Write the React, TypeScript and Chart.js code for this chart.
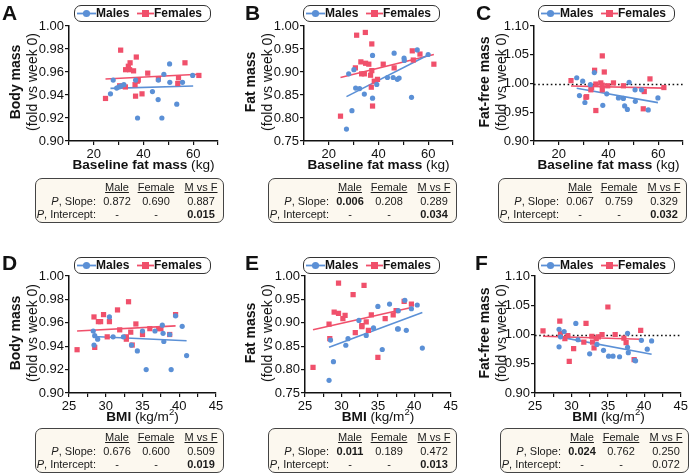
import { useEffect, useRef } from 'react';
import { Chart, registerables } from 'chart.js';

Chart.register(...registerables);

const BLUE = '#5b90d6';
const RED = '#f0506b';
const INK = '#111';
const FONT = "'Liberation Sans', Arial, Helvetica, sans-serif";
Chart.defaults.font.family = FONT;

type Pt = [number, number];

// ---------- Panel A: body mass vs baseline fat mass ----------
const aMales: Pt[] = [[26.7, 0.941], [27.8, 0.953], [29.2, 0.946], [30.1, 0.947], [31.0, 0.948], [32.1, 0.949], [37.6, 0.920], [36.8, 0.953], [43.6, 0.943], [45.9, 0.936], [46.0, 0.953], [47.4, 0.920], [48.2, 0.958], [50.5, 0.967], [50.6, 0.951], [53.4, 0.932], [55.7, 0.951], [59.8, 0.957]];
const aFemales: Pt[] = [[24.7, 0.937], [30.8, 0.979], [30.4, 0.948], [32.7, 0.947], [32.8, 0.962], [33.9, 0.965], [34.6, 0.968], [34.4, 0.962], [36.0, 0.961], [37.1, 0.973], [36.8, 0.939], [36.6, 0.949], [37.5, 0.952], [37.9, 0.953], [39.4, 0.941], [41.7, 0.959], [46.0, 0.954], [53.8, 0.950], [54.1, 0.955], [56.7, 0.968], [62.3, 0.957]];
const aMaleFit: Pt[] = [[26.7, 0.9458], [60.0, 0.9478]];
const aFemaleFit: Pt[] = [[24.7, 0.9539], [62.3, 0.958]];
const aSlopeP = ['0.872', '0.690', '0.887'];
const aSlopeBold = [false, false, false];
const aInterceptP = ['-', '-', '0.015'];
const aInterceptBold = [false, false, true];

// ---------- Panel B: fat mass vs baseline fat mass ----------
const bMales: Pt[] = [[27.1, 0.776], [28.0, 0.896], [29.3, 0.816], [30.1, 0.905], [30.8, 0.865], [32.4, 0.864], [34.3, 0.852], [37.6, 0.936], [37.6, 0.843], [39.3, 0.873], [43.6, 0.888], [45.9, 0.888], [46.3, 0.941], [47.6, 0.884], [48.3, 0.887], [50.3, 0.930], [50.4, 0.925], [53.3, 0.845], [55.6, 0.948], [60.0, 0.938]];
const bFemales: Pt[] = [[24.7, 0.804], [30.7, 0.909], [31.2, 0.980], [32.9, 0.922], [33.2, 0.896], [34.3, 0.896], [34.7, 0.986], [34.8, 0.919], [36.1, 0.917], [36.8, 0.893], [37.1, 0.867], [37.3, 0.961], [37.3, 0.903], [37.6, 0.826], [38.3, 0.880], [39.6, 0.884], [41.9, 0.917], [46.3, 0.909], [53.6, 0.946], [54.0, 0.926], [56.7, 0.939], [62.3, 0.917]];
const bMaleFit: Pt[] = [[27.1, 0.8464], [60.0, 0.937]];
const bFemaleFit: Pt[] = [[24.7, 0.888], [62.3, 0.938]];
const bSlopeP = ['0.006', '0.208', '0.289'];
const bSlopeBold = [true, false, false];
const bInterceptP = ['-', '-', '0.034'];
const bInterceptBold = [false, false, true];

// ---------- Panel C: fat-free mass vs baseline fat mass ----------
const cMales: Pt[] = [[27.2, 1.010], [28.3, 0.979], [29.6, 1.004], [30.5, 0.967], [32.7, 0.998], [34.3, 1.019], [37.7, 0.962], [39.3, 0.982], [44.0, 0.975], [46.0, 0.974], [46.5, 0.961], [47.6, 0.955], [48.3, 1.002], [50.7, 0.989], [50.8, 0.969], [53.3, 0.989], [56.0, 0.954], [59.9, 0.975]];
const cFemales: Pt[] = [[24.9, 1.005], [30.9, 0.976], [31.2, 0.977], [32.9, 0.989], [33.2, 0.993], [34.4, 1.023], [34.9, 0.999], [34.9, 0.953], [36.9, 1.001], [37.5, 1.048], [38.3, 1.020], [37.5, 0.989], [37.5, 0.997], [39.7, 0.996], [42.0, 1.001], [46.0, 0.996], [54.0, 0.956], [54.4, 0.986], [56.7, 1.008], [62.3, 0.993]];
const cMaleFit: Pt[] = [[27.2, 0.9916], [59.9, 0.9667]];
const cFemaleFit: Pt[] = [[24.9, 0.9957], [62.3, 0.992]];
const cSlopeP = ['0.067', '0.759', '0.329'];
const cSlopeBold = [false, false, false];
const cInterceptP = ['-', '-', '0.032'];
const cInterceptBold = [false, false, true];

// ---------- Panel D: body mass vs BMI ----------
const dMales: Pt[] = [[28.3, 0.953], [28.4, 0.941], [28.5, 0.949], [28.9, 0.946], [30.5, 0.965], [31.0, 0.948], [32.4, 0.948], [33.5, 0.941], [34.3, 0.936], [35.5, 0.920], [35.0, 0.953], [36.7, 0.953], [37.7, 0.958], [37.8, 0.951], [37.9, 0.944], [38.9, 0.920], [38.7, 0.950], [39.5, 0.966], [40.4, 0.957], [41.0, 0.932]];
const dFemales: Pt[] = [[26.1, 0.937], [28.4, 0.965], [28.5, 0.939], [29.0, 0.961], [29.3, 0.961], [29.7, 0.967], [30.5, 0.961], [30.2, 0.948], [31.6, 0.971], [31.9, 0.954], [33.1, 0.978], [32.8, 0.948], [32.8, 0.946], [33.4, 0.952], [33.6, 0.941], [34.1, 0.959], [35.0, 0.950], [36.0, 0.955], [37.2, 0.955], [37.5, 0.955], [38.7, 0.950], [39.5, 0.967]];
const dMaleFit: Pt[] = [[28.3, 0.9483], [41.0, 0.9446]];
const dFemaleFit: Pt[] = [[26.1, 0.953], [39.5, 0.9574]];
const dSlopeP = ['0.676', '0.600', '0.509'];
const dSlopeBold = [false, false, false];
const dInterceptP = ['-', '-', '0.019'];
const dInterceptBold = [false, false, true];

// ---------- Panel E: fat mass vs BMI ----------
const eMales: Pt[] = [[28.3, 0.777], [28.9, 0.817], [28.5, 0.863], [30.6, 0.852], [30.9, 0.866], [32.4, 0.905], [33.4, 0.873], [34.4, 0.889], [35.0, 0.935], [35.6, 0.843], [36.6, 0.940], [37.7, 0.887], [37.8, 0.887], [37.8, 0.926], [38.9, 0.884], [38.7, 0.948], [39.6, 0.930], [40.4, 0.938], [41.1, 0.846]];
const eFemales: Pt[] = [[26.1, 0.805], [28.3, 0.897], [28.4, 0.866], [29.0, 0.923], [29.6, 0.920], [29.6, 0.985], [30.2, 0.909], [30.5, 0.916], [31.6, 0.960], [31.9, 0.879], [32.8, 0.894], [32.8, 0.892], [33.1, 0.980], [33.4, 0.902], [33.7, 0.884], [34.1, 0.917], [35.0, 0.826], [36.0, 0.909], [37.1, 0.917], [37.5, 0.926], [38.6, 0.946], [39.6, 0.940]];
const eMaleFit: Pt[] = [[28.3, 0.848], [41.1, 0.922]];
const eFemaleFit: Pt[] = [[26.1, 0.885], [39.6, 0.9325]];
const eSlopeP = ['0.011', '0.189', '0.472'];
const eSlopeBold = [true, false, false];
const eInterceptP = ['-', '-', '0.013'];
const eInterceptBold = [false, false, true];

// ---------- Panel F: fat-free mass vs BMI ----------
const fMales: Pt[] = [[28.3, 1.009], [28.3, 0.979], [28.5, 0.996], [29.0, 1.005], [30.6, 1.019], [30.9, 0.991], [32.5, 0.967], [33.5, 0.983], [34.4, 0.973], [35.1, 0.963], [35.7, 0.963], [36.6, 0.962], [37.7, 1.002], [37.7, 0.978], [37.8, 0.969], [38.7, 0.956], [38.8, 0.955], [39.6, 0.990], [40.4, 0.975], [41.0, 0.989]];
const fFemales: Pt[] = [[26.1, 1.006], [28.4, 1.023], [28.5, 1.002], [29.1, 0.993], [29.7, 0.954], [29.5, 0.998], [30.3, 0.976], [31.7, 0.987], [32.0, 1.019], [32.8, 0.997], [32.9, 0.987], [33.1, 0.977], [33.4, 0.993], [33.7, 0.996], [34.2, 1.000], [35.0, 1.047], [36.0, 1.000], [37.2, 0.994], [37.5, 0.986], [38.6, 0.957], [39.5, 1.007]];
const fMaleFit: Pt[] = [[28.3, 0.996], [41.0, 0.9663]];
const fFemaleFit: Pt[] = [[26.1, 0.997], [39.5, 0.992]];
const fSlopeP = ['0.024', '0.762', '0.250'];
const fSlopeBold = [true, false, false];
const fInterceptP = ['-', '-', '0.072'];
const fInterceptBold = [false, false, false];

// ---------- axes ----------
const fatMassAxis = { min: 10, max: 70, step: 10, labelEvery: 20 };
const bmiAxis = { min: 25, max: 45, step: 2.5, labelEvery: 5 };
const bodyAxis = { min: 0.9, max: 1.0, step: 0.02 };
const fatAxis = { min: 0.75, max: 1.0, step: 0.05 };
const ffmAxis = { min: 0.9, max: 1.1, step: 0.05 };
const tableHeaders = ['Male', 'Female', 'M vs F'];

const refLinePlugin = {
  id: 'refLine',
  beforeDatasetsDraw(chart: any, _args: any, opts: any) {
    if (opts == null || opts.value == null) return;
    const { ctx, chartArea, scales } = chart;
    const yy = Math.round(scales.y.getPixelForValue(opts.value)) + 0.5;
    ctx.save();
    ctx.setLineDash([1.6, 2.6]);
    ctx.strokeStyle = INK;
    ctx.lineWidth = 1.4;
    ctx.beginPath();
    ctx.moveTo(chartArea.left, yy);
    ctx.lineTo(chartArea.right, yy);
    ctx.stroke();
    ctx.restore();
  },
};

type PanelDef = {
  letter: string;
  cx: number; cy: number; w: number; h: number;
  plot: { l: number; r: number; t: number; b: number };
  males: Pt[]; females: Pt[]; maleFit: Pt[]; femaleFit: Pt[];
  xAxis: { min: number; max: number; step: number; labelEvery: number };
  yAxis: { min: number; max: number; step: number };
  refLine: number | null;
  yTitle: string; yTitleX: number;
  xKind: 'fat' | 'bmi';
  legendX: number; legendY: number;
  letterX: number; letterY: number;
  tableX: number; tableY: number;
  slope: string[]; slopeBold: boolean[]; intercept: string[]; interceptBold: boolean[];
};

function PanelChart({ p }: { p: PanelDef }) {
  const ref = useRef<HTMLCanvasElement>(null);
  useEffect(() => {
    const toXY = (a: Pt[]) => a.map(([x, y]) => ({ x, y }));
    const tickFont = { family: FONT, size: 13 };
    const chart = new Chart(ref.current as HTMLCanvasElement, {
      type: 'scatter',
      data: {
        datasets: [
          { data: toXY(p.males), pointStyle: 'circle', pointRadius: 2.6, pointBackgroundColor: BLUE, pointBorderColor: BLUE, pointBorderWidth: 0, showLine: false } as any,
          { data: toXY(p.females), pointStyle: 'rect', pointRadius: 3.7, pointBackgroundColor: RED, pointBorderColor: RED, pointBorderWidth: 0, showLine: false } as any,
          { data: toXY(p.maleFit), showLine: true, borderColor: BLUE, borderWidth: 1.6, pointRadius: 0, fill: false } as any,
          { data: toXY(p.femaleFit), showLine: true, borderColor: RED, borderWidth: 1.6, pointRadius: 0, fill: false } as any,
        ],
      },
      options: {
        animation: false,
        responsive: false,
        maintainAspectRatio: false,
        events: [],
        layout: { padding: { left: 0, top: p.plot.t - p.cy, right: p.cx + p.w - p.plot.r, bottom: 0 } },
        plugins: {
          legend: { display: false },
          tooltip: { enabled: false },
          refLine: { value: p.refLine },
        } as any,
        scales: {
          x: {
            type: 'linear',
            min: p.xAxis.min,
            max: p.xAxis.max,
            ticks: {
              stepSize: p.xAxis.step,
              autoSkip: false,
              maxRotation: 0,
              padding: 2,
              color: INK,
              font: tickFont,
              callback: (v: any) => (Math.abs(Number(v) % p.xAxis.labelEvery) < 1e-6 ? String(Number(v)) : ''),
            },
            grid: { drawOnChartArea: false, tickLength: 4, color: INK, lineWidth: 1.2 },
            border: { color: INK, width: 1.5 },
            afterFit: (s: any) => { s.height = p.cy + p.h - p.plot.b; },
          } as any,
          y: {
            type: 'linear',
            min: p.yAxis.min,
            max: p.yAxis.max,
            ticks: {
              stepSize: p.yAxis.step,
              autoSkip: false,
              padding: 1,
              color: INK,
              font: tickFont,
              callback: (v: any) => Number(v).toFixed(2),
            },
            grid: { drawOnChartArea: false, tickLength: 4, color: INK, lineWidth: 1.2 },
            border: { color: INK, width: 1.5 },
            afterFit: (s: any) => { s.width = p.plot.l - p.cx; },
          } as any,
        },
      },
      plugins: [refLinePlugin as any],
    });
    return () => chart.destroy();
  }, [p]);
  return (
    <canvas
      ref={ref}
      width={p.w}
      height={p.h}
      style={{ position: 'absolute', left: p.cx, top: p.cy, width: p.w, height: p.h }}
    />
  );
}

function Legend({ x, y }: { x: number; y: number }) {
  const txt: any = { position: 'absolute', top: 0, lineHeight: '15px', fontSize: 12, fontWeight: 'bold', whiteSpace: 'nowrap', color: INK };
  return (
    <div style={{ position: 'absolute', left: x, top: y, width: 137, height: 17, boxSizing: 'border-box', border: '1px solid #333', borderRadius: 7, background: '#fff' }}>
      <svg width={137} height={17} style={{ position: 'absolute', left: -1, top: -1 }}>
        <line x1={3} y1={8.5} x2={22} y2={8.5} stroke={BLUE} strokeWidth={1.8} />
        <circle cx={12.5} cy={8.5} r={3.6} fill={BLUE} />
        <line x1={63} y1={8.5} x2={80} y2={8.5} stroke={RED} strokeWidth={1.8} />
        <rect x={68} y={5} width={7} height={7} fill={RED} />
      </svg>
      <span style={{ ...txt, left: 21 }}>Males</span>
      <span style={{ ...txt, left: 79 }}>Females</span>
    </div>
  );
}

function StatsTable({ p }: { p: PanelDef }) {
  const rowTops = [1.5, 15.5, 29];
  const colCenters = [81, 120, 165];
  const base: any = { position: 'absolute', lineHeight: '13px', fontSize: 11, whiteSpace: 'nowrap', color: '#1a1a1a' };
  const cell = (text: string, row: number, col: number, bold: boolean, underline = false) => (
    <span
      key={`${row}-${col}`}
      style={{ ...base, top: rowTops[row], left: colCenters[col] - 25, width: 50, textAlign: 'center', fontWeight: bold ? 'bold' : 'normal', textDecoration: underline ? 'underline' : 'none' }}
    >
      {text}
    </span>
  );
  return (
    <div style={{ position: 'absolute', left: p.tableX, top: p.tableY, width: 189, height: 45, boxSizing: 'border-box', border: '1px solid #444', borderRadius: 7, background: '#fcf8ef' }}>
      {tableHeaders.map((h, i) => cell(h, 0, i, false, true))}
      <span style={{ ...base, top: rowTops[1], right: 187 - 60, textAlign: 'right' }}>
        <i>P</i>, Slope:
      </span>
      <span style={{ ...base, top: rowTops[2], right: 187 - 60, textAlign: 'right' }}>
        <i>P</i>, Intercept:
      </span>
      {p.slope.map((v, i) => cell(v, 1, i, p.slopeBold[i]))}
      {p.intercept.map((v, i) => cell(v, 2, i, p.interceptBold[i]))}
    </div>
  );
}

const yTitleLines: Record<string, string> = { A: 'Body mass', B: 'Fat mass', C: 'Fat-free mass', D: 'Body mass', E: 'Fat mass', F: 'Fat-free mass' };

function Panel({ p }: { p: PanelDef }) {
  const plotCx = (p.plot.l + p.plot.r) / 2;
  const plotCy = (p.plot.t + p.plot.b) / 2 - 2;
  const titleSize = 13.6;
  const baseline = p.plot.b + 29;
  return (
    <>
      <PanelChart p={p} />
      <div style={{ position: 'absolute', left: p.letterX, top: p.letterY, fontSize: 21, fontWeight: 'bold', lineHeight: '21px', color: INK }}>{p.letter}</div>
      <Legend x={p.legendX} y={p.legendY} />
      <div
        style={{ position: 'absolute', left: p.yTitleX, top: plotCy, transform: 'translate(-50%, -50%) rotate(-90deg)', whiteSpace: 'nowrap', textAlign: 'center', fontSize: 14, lineHeight: '17px', color: INK }}
      >
        <div style={{ fontWeight: 'bold' }}>{p.yTitle}</div>
        <div>(fold vs week 0)</div>
      </div>
      <div
        style={{ position: 'absolute', left: plotCx, top: baseline - 12.7, transform: 'translateX(-50%)', whiteSpace: 'nowrap', fontSize: titleSize, lineHeight: '16px', color: INK }}
      >
        {p.xKind === 'fat' ? (
          <>
            <b>Baseline fat mass</b> (kg)
          </>
        ) : (
          <>
            <b>BMI</b> (kg/m<sup style={{ fontSize: '0.7em', lineHeight: 0, verticalAlign: 'super' }}>2</sup>)
          </>
        )}
      </div>
      <StatsTable p={p} />
    </>
  );
}

const TOP = { t: 26, b: 141 };
const BOT = { t: 276, b: 393 };

const panels: PanelDef[] = [
  {
    letter: 'A', cx: 0, cy: 0, w: 230, h: 175, plot: { l: 69, r: 218, ...TOP },
    males: aMales, females: aFemales, maleFit: aMaleFit, femaleFit: aFemaleFit,
    xAxis: fatMassAxis, yAxis: bodyAxis, refLine: null, yTitle: yTitleLines.A, yTitleX: 23.5, xKind: 'fat',
    legendX: 74, legendY: 5, letterX: 2, letterY: 2.2, tableX: 35, tableY: 178,
    slope: aSlopeP, slopeBold: aSlopeBold, intercept: aInterceptP, interceptBold: aInterceptBold,
  },
  {
    letter: 'B', cx: 230, cy: 0, w: 230, h: 175, plot: { l: 304, r: 453, ...TOP },
    males: bMales, females: bFemales, maleFit: bMaleFit, femaleFit: bFemaleFit,
    xAxis: fatMassAxis, yAxis: fatAxis, refLine: null, yTitle: yTitleLines.B, yTitleX: 258.5, xKind: 'fat',
    legendX: 303, legendY: 5, letterX: 245, letterY: 2.2, tableX: 268, tableY: 178,
    slope: bSlopeP, slopeBold: bSlopeBold, intercept: bInterceptP, interceptBold: bInterceptBold,
  },
  {
    letter: 'C', cx: 460, cy: 0, w: 230, h: 175, plot: { l: 534, r: 683, ...TOP },
    males: cMales, females: cFemales, maleFit: cMaleFit, femaleFit: cFemaleFit,
    xAxis: fatMassAxis, yAxis: ffmAxis, refLine: 1, yTitle: yTitleLines.C, yTitleX: 492.5, xKind: 'fat',
    legendX: 538, legendY: 5, letterX: 476, letterY: 2.2, tableX: 498, tableY: 178,
    slope: cSlopeP, slopeBold: cSlopeBold, intercept: cInterceptP, interceptBold: cInterceptBold,
  },
  {
    letter: 'D', cx: 0, cy: 240, w: 230, h: 175, plot: { l: 69, r: 216, ...BOT },
    males: dMales, females: dFemales, maleFit: dMaleFit, femaleFit: dFemaleFit,
    xAxis: bmiAxis, yAxis: bodyAxis, refLine: null, yTitle: yTitleLines.D, yTitleX: 23.5, xKind: 'bmi',
    legendX: 74, legendY: 257, letterX: 2, letterY: 252, tableX: 35, tableY: 428,
    slope: dSlopeP, slopeBold: dSlopeBold, intercept: dInterceptP, interceptBold: dInterceptBold,
  },
  {
    letter: 'E', cx: 230, cy: 240, w: 230, h: 175, plot: { l: 305, r: 451, ...BOT },
    males: eMales, females: eFemales, maleFit: eMaleFit, femaleFit: eFemaleFit,
    xAxis: bmiAxis, yAxis: fatAxis, refLine: null, yTitle: yTitleLines.E, yTitleX: 258.5, xKind: 'bmi',
    legendX: 303, legendY: 257, letterX: 245, letterY: 252, tableX: 268, tableY: 428,
    slope: eSlopeP, slopeBold: eSlopeBold, intercept: eInterceptP, interceptBold: eInterceptBold,
  },
  {
    letter: 'F', cx: 460, cy: 240, w: 230, h: 175, plot: { l: 535, r: 682, ...BOT },
    males: fMales, females: fFemales, maleFit: fMaleFit, femaleFit: fFemaleFit,
    xAxis: bmiAxis, yAxis: ffmAxis, refLine: 1, yTitle: yTitleLines.F, yTitleX: 492.5, xKind: 'bmi',
    legendX: 538, legendY: 257, letterX: 475, letterY: 252, tableX: 500, tableY: 428,
    slope: fSlopeP, slopeBold: fSlopeBold, intercept: fInterceptP, interceptBold: fInterceptBold,
  },
];

export default function App() {
  return (
    <div style={{ position: 'absolute', left: 0, top: 0, width: 690, height: 475, background: '#fff', fontFamily: FONT, color: INK, overflow: 'hidden' }}>
      {panels.map((p) => (
        <Panel key={p.letter} p={p} />
      ))}
    </div>
  );
}
